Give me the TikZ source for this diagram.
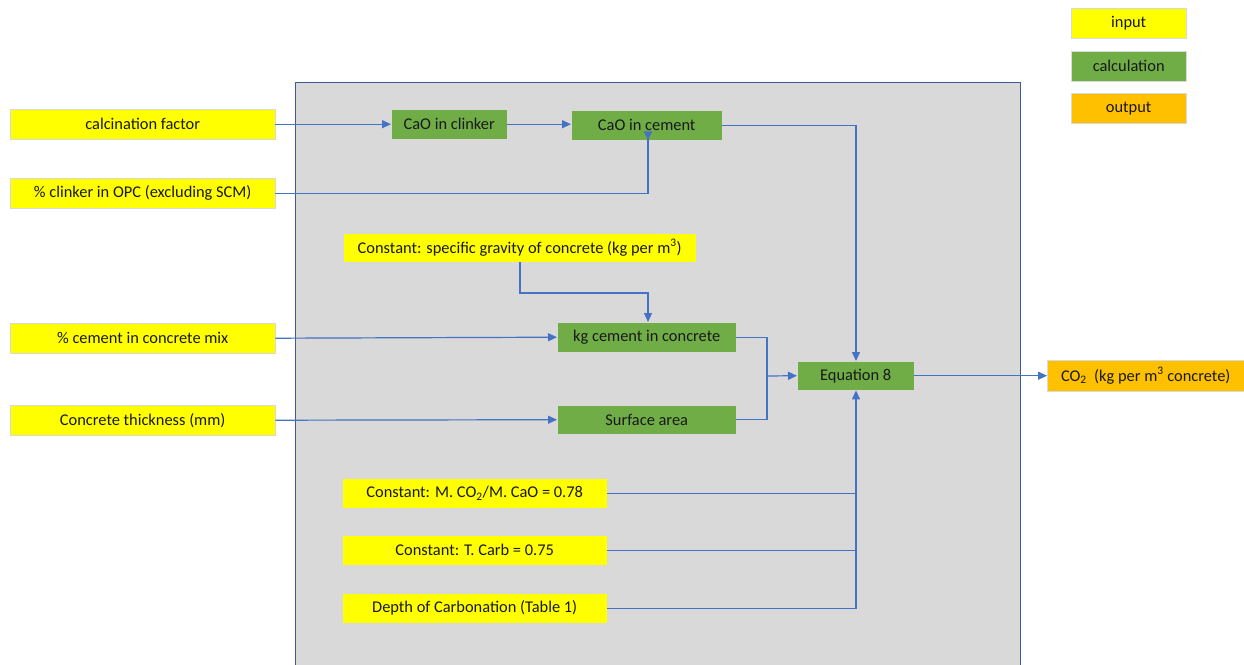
\documentclass[tikz,border=0pt]{standalone}
\usepackage{fontspec}
\setmainfont{Carlito}
\usetikzlibrary{arrows.meta}
\definecolor{inyellow}{HTML}{FFFF00}
\definecolor{calcgreen}{HTML}{70AD47}
\definecolor{outorange}{HTML}{FFC000}
\definecolor{linkblue}{HTML}{4472C4}
\definecolor{framegray}{HTML}{D9D9D9}
\definecolor{frameline}{HTML}{3A5A9A}
\begin{document}
\begin{tikzpicture}[x=1pt,y=-1pt,
  box/.style={draw=black!15, line width=0.4pt, inner sep=0pt, anchor=north west,
    font=\fontsize{16.4}{18}\selectfont, text=black!90},
  inbox/.style={box, fill=inyellow},
  calcbox/.style={box, fill=calcgreen},
  outbox/.style={box, fill=outorange},
  link/.style={draw=linkblue, line width=1.2pt},
  arr/.style={link, -{Triangle[length=9pt,width=8pt]}}
]
\useasboundingbox (0,0) rectangle (1244,664);
% model frame
\draw[fill=framegray, draw=frameline, line width=1pt] (295,82) rectangle (1020,670);

% legend
\node[inbox, minimum width=115pt, minimum height=30pt] (leg1) at (1071,8) {input};
\node[calcbox, minimum width=115pt, minimum height=30pt] (leg2) at (1071,51) {calculation};
\node[outbox, minimum width=115pt, minimum height=30pt] (leg3) at (1071,93) {output};

% inputs on the left
\node[inbox, minimum width=265pt, minimum height=30pt] (calc) at (10,109) {calcination factor};
\node[inbox, minimum width=265pt, minimum height=30pt] (clink) at (10,178) {\% clinker in OPC (excluding SCM)};
\node[inbox, minimum width=265pt, minimum height=30pt] (cem) at (10,323) {\% cement in concrete mix};
\node[inbox, minimum width=265pt, minimum height=30pt] (thick) at (10,405) {Concrete thickness (mm)};

% calculation steps
\node[calcbox, minimum width=116pt, minimum height=30pt] (caoclk) at (391,109) {CaO in clinker};
\node[calcbox, minimum width=151pt, minimum height=30pt] (caocem) at (571,110) {CaO in cement};
\node[inbox, minimum width=353pt, minimum height=29pt] (sg) at (343,233) {Constant: specific gravity of concrete (kg per m\textsuperscript{3})};
\node[calcbox, minimum width=179pt, minimum height=30pt] (kgcem) at (557,322) {kg cement in concrete};
\node[calcbox, minimum width=179pt, minimum height=29pt] (surf) at (557,405) {Surface area};
\node[calcbox, minimum width=117pt, minimum height=29pt] (eq) at (797,361) {Equation 8};
\node[outbox, minimum width=197pt, minimum height=31pt] (out) at (1047,360) {CO\textsubscript{2}\ \ (kg per m\textsuperscript{3} concrete)};

% constants below
\node[inbox, minimum width=265pt, minimum height=30pt] (mco) at (342,478) {Constant: M. CO\textsubscript{2}/M. CaO = 0.78};
\node[inbox, minimum width=265pt, minimum height=30pt] (tcarb) at (342,535) {Constant: T. Carb = 0.75};
\node[inbox, minimum width=265pt, minimum height=30pt] (depth) at (342,593) {Depth of Carbonation (Table 1)};

% connectors
\draw[arr] (calc.east) -- (caoclk.west);
\draw[arr] (caoclk.east) -- (caocem.west |- caoclk.east);
\draw[arr] (clink.east) -| (648,140) -- (caocem.south -| 648,0);
\draw[arr] (caocem.east) -| (eq.north -| 856,0);
\draw[arr] (sg.south -| 520,0) -- (520,293) -| (kgcem.north -| 648,0);
\draw[arr] (cem.east) -- (kgcem.west);
\draw[arr] (thick.east) -- (surf.west);
\coordinate (join) at (767,376);
\draw[link] (kgcem.east) -| (join);
\draw[link] (surf.east) -| (join);
\draw[arr] (join) -- (eq.west);
\coordinate (busbot) at (856,608);
\draw[link] (mco.east) -- (mco.east -| busbot);
\draw[link] (tcarb.east) -- (tcarb.east -| busbot);
\draw[link] (depth.east) -| (busbot);
\draw[arr] (busbot) -- (eq.south -| busbot);
\draw[arr] (eq.east) -- (out.west);
\end{tikzpicture}
\end{document}
